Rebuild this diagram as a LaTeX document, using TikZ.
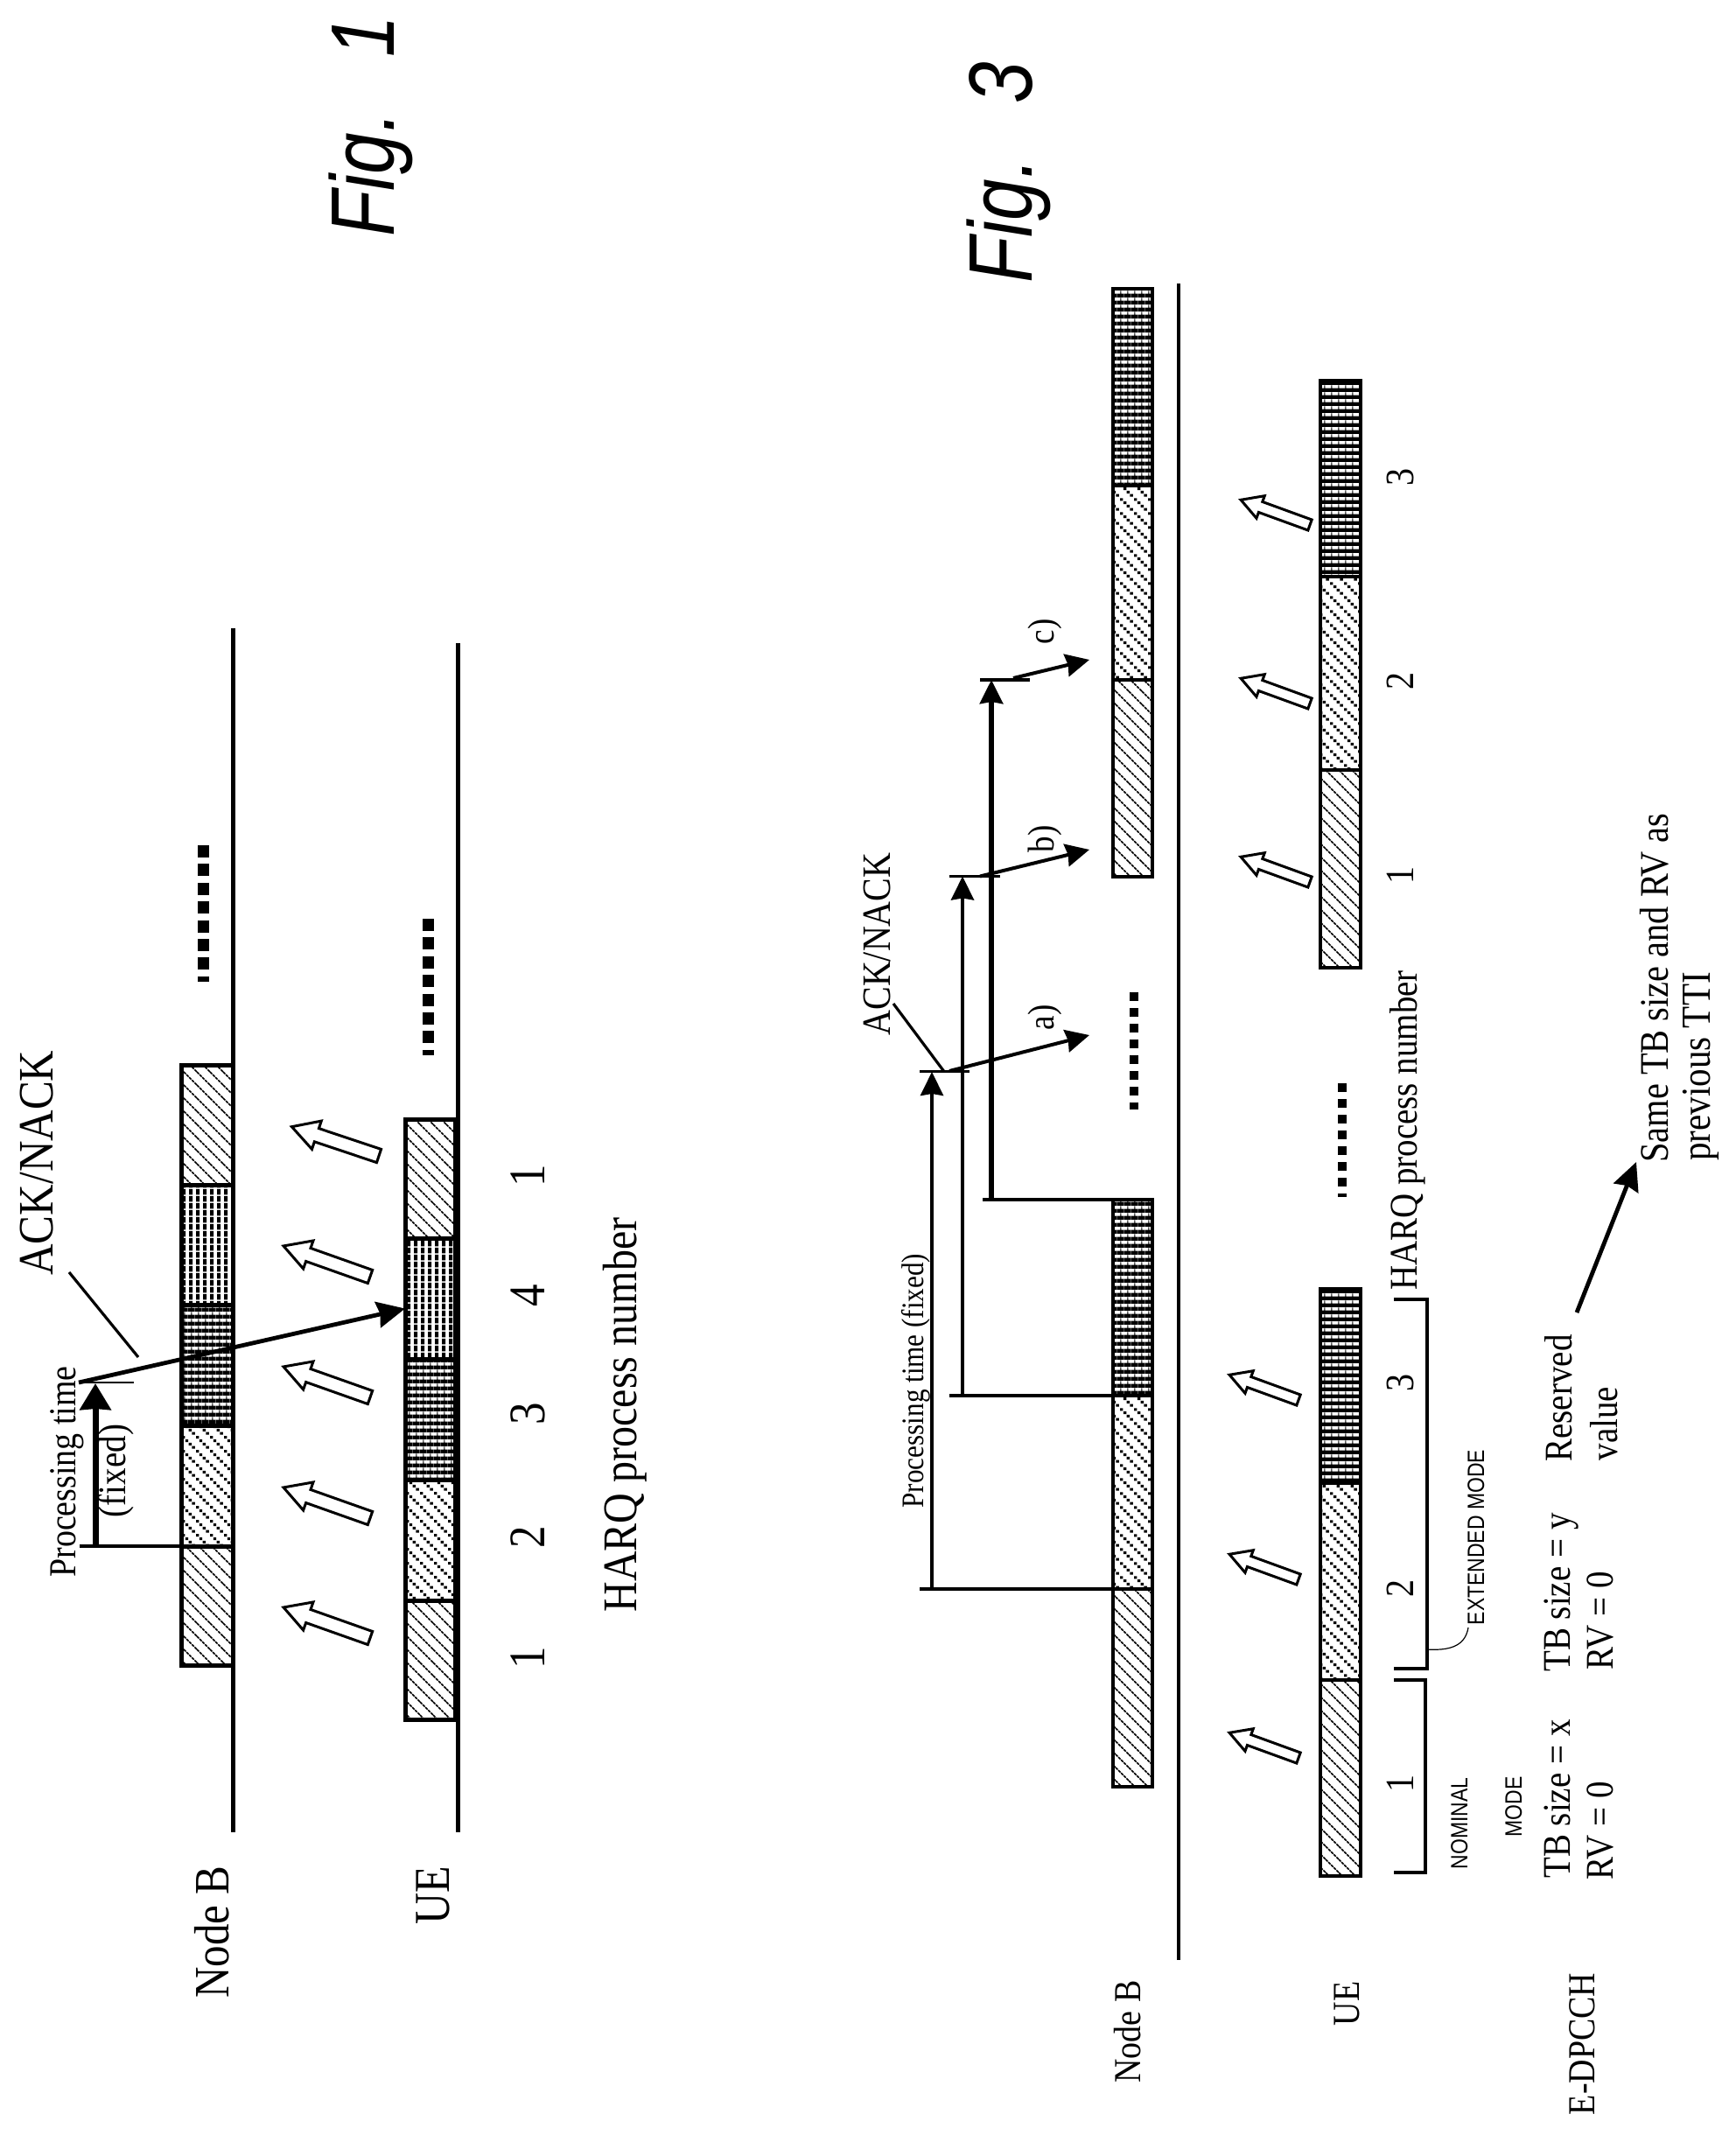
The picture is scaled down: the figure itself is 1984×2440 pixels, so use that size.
\documentclass[tikz,border=0pt]{standalone}
\usepackage{fontspec}
\setmainfont{Liberation Serif}
\setsansfont{Liberation Sans}
\usetikzlibrary{arrows.meta,patterns}
% Patterns: tile sizes in pt, 1 reference pixel = 0.5pt
\pgfdeclarepatternformonly{hatchone}{\pgfqpoint{-1pt}{-1pt}}{\pgfqpoint{8.5pt}{8.5pt}}{\pgfqpoint{7.5pt}{7.5pt}}{%
  \pgfsetlinewidth{0.85pt}\pgfsetdash{{1.7pt}{0.5pt}}{0pt}%
  \pgfpathmoveto{\pgfqpoint{0pt}{7.5pt}}\pgfpathlineto{\pgfqpoint{7.5pt}{0pt}}\pgfusepath{stroke}}
\pgfdeclarepatternformonly{hatchtwo}{\pgfqpoint{0pt}{0pt}}{\pgfqpoint{8pt}{8pt}}{\pgfqpoint{8pt}{8pt}}{%
  \pgfpathrectangle{\pgfqpoint{0pt}{6.2pt}}{\pgfqpoint{1.8pt}{1.6pt}}%
  \pgfpathrectangle{\pgfqpoint{2pt}{4.2pt}}{\pgfqpoint{1.8pt}{1.6pt}}%
  \pgfpathrectangle{\pgfqpoint{4pt}{2.2pt}}{\pgfqpoint{1.8pt}{1.6pt}}%
  \pgfpathrectangle{\pgfqpoint{6pt}{0.2pt}}{\pgfqpoint{1.8pt}{1.6pt}}%
  \pgfusepath{fill}}
\pgfdeclarepatternformonly{hatchthree}{\pgfqpoint{0pt}{0pt}}{\pgfqpoint{4.15pt}{4.15pt}}{\pgfqpoint{4.15pt}{4.15pt}}{%
  \pgfpathrectangle{\pgfqpoint{0pt}{0pt}}{\pgfqpoint{4.15pt}{2.35pt}}%
  \pgfpathrectangle{\pgfqpoint{1.8pt}{2.35pt}}{\pgfqpoint{0.6pt}{1.8pt}}%
  \pgfusepath{fill}}
\pgfdeclarepatternformonly{hatchfour}{\pgfqpoint{0pt}{0pt}}{\pgfqpoint{4.15pt}{4.15pt}}{\pgfqpoint{4.15pt}{4.15pt}}{%
  \pgfpathrectangle{\pgfqpoint{0.6pt}{0.4pt}}{\pgfqpoint{2.2pt}{3.4pt}}%
  \pgfusepath{fill}}
\tikzset{
  cellbox/.style={draw=black,rectangle,inner sep=0pt,outer sep=0pt,fill=white},
  timeline/.style={line width=2.5pt},
  timelinethin/.style={line width=1.9pt},
  dotsbig/.style={line width=6.5pt,dash pattern=on 7pt off 3.7pt},
  dotssmall/.style={line width=4.7pt,dash pattern=on 5pt off 4pt},
  holloweye/.style={draw=black,fill=white,line width=1.5pt,line join=miter},
  hollowarrow/.pic={\path[holloweye] (0,-8) -- (75,-8) -- (75,-17) -- (105,0) -- (75,17) -- (75,8) -- (0,8) -- cycle;},
  thin line/.style={line width=1.2pt},
  tick line/.style={line width=1.8pt},
  mid line/.style={line width=1.6pt},
  bigarrow/.style={-{Stealth[length=16pt,width=15pt,inset=1.5pt]},line width=2.4pt},
  smallarrow/.style={-{Stealth[length=13.5pt,width=13pt,inset=1pt]},line width=2pt},
  lbl/.style={rotate=90,xscale=0.87,anchor=base,inner sep=0pt,outer sep=0pt,font=\fontsize{#1}{#1}\selectfont},
  sanslbl/.style={rotate=90,xscale=0.85,anchor=base,inner sep=0pt,outer sep=0pt,font=\sffamily\fontsize{#1}{#1}\selectfont},
  figlbl/.style={rotate=90,xscale=0.83,anchor=base,inner sep=0pt,outer sep=0pt,font=\sffamily\itshape\fontsize{51.5}{52}\selectfont}
}
% name, x1, y1, x2, y2, pattern, line width in px
\newcommand{\cellblock}[7]{%
  \pgfmathsetmacro{\cbw}{(#4-#2)*0.5}\pgfmathsetmacro{\cbh}{(#5-#3)*0.5}%
  \pgfmathsetmacro{\cbx}{(#2+#4)/2}\pgfmathsetmacro{\cby}{(#3+#5)/2}%
  \node[cellbox,line width=#7*0.5pt,postaction={pattern=#6},minimum width=\cbw pt,minimum height=\cbh pt] (#1) at (\cbx,\cby) {};}
\begin{document}
\begin{tikzpicture}[x=0.5pt,y=-0.5pt]
\useasboundingbox (0,0) rectangle (1984,2440);
\fill[white] (0,0) rectangle (1984,2440);

% ---------- Fig. 1 ----------
\node[figlbl] (figone) at (450,144) {Fig.\hspace{38pt}1};
\coordinate (nbtop) at (266,718); \coordinate (nbbot) at (266,2094);
\coordinate (uetop) at (523,735); \coordinate (uebot) at (523,2094);
\cellblock{na}{207}{1217}{266}{1354.5}{hatchone}{5}
\cellblock{nb}{207}{1354.5}{266}{1491}{hatchfour}{5}
\cellblock{nc}{207}{1491}{266}{1629}{hatchthree}{5}
\cellblock{nd}{207}{1629}{266}{1767}{hatchtwo}{5}
\cellblock{ne}{207}{1767}{266}{1903}{hatchone}{5}
\cellblock{ua}{463}{1279.5}{520}{1415}{hatchone}{5}
\cellblock{ub}{463}{1415}{520}{1553}{hatchfour}{5}
\cellblock{uc}{463}{1553}{520}{1691}{hatchthree}{5}
\cellblock{ud}{463}{1691}{520}{1829}{hatchtwo}{5}
\cellblock{ue}{463}{1829}{520}{1965}{hatchone}{5}
\draw[timeline] (nbtop) -- (nbbot);
\draw[timeline] (uetop) -- (uebot);
\coordinate (ndota) at (232.5,966); \coordinate (ndotb) at (232.5,1122);
\coordinate (udota) at (489,1050); \coordinate (udotb) at (489,1206);
\draw[dotsbig] (ndota) -- (ndotb);
\draw[dotsbig] (udota) -- (udotb);
\pic[rotate=161.5] at (433,1321) {hollowarrow};
\pic[rotate=160.5] at (423,1459) {hollowarrow};
\pic[rotate=160.5] at (423,1597) {hollowarrow};
\pic[rotate=160.5] at (423,1735) {hollowarrow};
\pic[rotate=160.5] at (423,1872) {hollowarrow};
\coordinate (pstart) at (91,1767);
\coordinate (varrowbase) at (109,1767); \coordinate (varrowtip) at (109,1581);
\coordinate (tickl) at (90,1580); \coordinate (tickr) at (153,1580);
\coordinate (ackl) at (79,1454); \coordinate (ackr) at (158,1551);
\coordinate (ubtip) at (463,1495.5);
\draw[mid line] (ne.north west) -- (pstart);
\draw[line width=3.5pt,-{Stealth[length=15pt,width=17.5pt,inset=0.5pt]}] (varrowbase) -- (varrowtip);
\draw[thin line] (tickl) -- (tickr);
\draw[bigarrow] (tickl) -- (ubtip);
\draw[mid line] (ackl) -- (ackr);
\node[lbl=28.3] (ackone) at (60,1329) {ACK/NACK};
\node[lbl=21.8] (procone) at (86,1682) {Processing time};
\node[lbl=22.4] (fixedone) at (143,1681) {(fixed)};
\node[lbl=29.3] (one1) at (622,1895) {1};
\node[lbl=29.3] (one2) at (622,1757) {2};
\node[lbl=29.3] (one3) at (622,1616) {3};
\node[lbl=29.3] (one4) at (622,1481) {4};
\node[lbl=29.3] (one5) at (622,1344) {1};
\node[lbl=27.6] (harqone) at (727,1617) {HARQ process number};
\node[lbl=28.2] (nodebone) at (261,2208) {Node B};
\node[lbl=28.7] (ueone) at (513,2166) {UE};

% ---------- Fig. 3 ----------
\node[figlbl] (figthree) at (1179,197) {Fig.\hspace{38pt}3};
\coordinate (nbtopb) at (1347,324); \coordinate (nbbotb) at (1347,2240);
\draw[timelinethin] (nbtopb) -- (nbbotb);
\cellblock{pa}{1272}{330}{1317}{555}{hatchthree}{4}
\cellblock{pb}{1272}{555}{1317}{777}{hatchtwo}{4}
\cellblock{pc}{1272}{777}{1317}{1001.5}{hatchone}{4}
\cellblock{pd}{1272}{1370.5}{1317}{1594.5}{hatchthree}{4}
\cellblock{pe}{1272}{1594.5}{1317}{1816}{hatchtwo}{4}
\cellblock{pf}{1272}{1816}{1317}{2042}{hatchone}{4}
\cellblock{qa}{1509}{435}{1554.5}{659}{hatchthree}{4}
\cellblock{qb}{1509}{659}{1554.5}{880}{hatchtwo}{4}
\cellblock{qc}{1509}{880}{1554.5}{1105.5}{hatchone}{4}
\cellblock{qd}{1509}{1473}{1554.5}{1695}{hatchthree}{4}
\cellblock{qe}{1509}{1695}{1554.5}{1920}{hatchtwo}{4}
\cellblock{qf}{1509}{1920}{1554.5}{2144}{hatchone}{4}
\coordinate (pdota) at (1296,1134); \coordinate (pdotb) at (1296,1268);
\coordinate (qdota) at (1534,1238); \coordinate (qdotb) at (1534,1368);
\draw[dotssmall] (pdota) -- (pdotb);
\draw[dotssmall] (qdota) -- (qdotb);
\pic[rotate=160,scale=0.8] at (1497,1008) {hollowarrow};
\pic[rotate=160,scale=0.8] at (1497,804) {hollowarrow};
\pic[rotate=160,scale=0.8] at (1497,600) {hollowarrow};
\pic[rotate=160,scale=0.8] at (1484,2009) {hollowarrow};
\pic[rotate=160,scale=0.8] at (1484,1805) {hollowarrow};
\pic[rotate=160,scale=0.8] at (1484,1600) {hollowarrow};
% processing arrows
\coordinate (sa) at (1051,1816); \coordinate (sab) at (1065,1816); \coordinate (ta) at (1065,1225);
\coordinate (sb) at (1085,1594.5); \coordinate (sbb) at (1100,1594.5); \coordinate (tb) at (1100,1001.5);
\coordinate (sc) at (1123,1370.5); \coordinate (scb) at (1133,1370.5); \coordinate (tc) at (1133,777);
\coordinate (tal) at (1051,1224.5); \coordinate (tar) at (1108,1224.5);
\coordinate (tbl) at (1085,1001.5); \coordinate (tbr) at (1142.5,1001.5);
\coordinate (tcl) at (1120,777); \coordinate (tcr) at (1177,777);
\draw[mid line,line width=2pt] (pf.north west) -- (sa);
\draw[mid line,line width=2pt] (pe.north west) -- (sb);
\draw[mid line,line width=2pt] (pd.north west) -- (sc);
\draw[smallarrow] (sab) -- (ta);
\draw[smallarrow] (sbb) -- (tb);
\draw[smallarrow,line width=3pt] (scb) -- (tc);
\draw[tick line] (tal) -- (tar);
\draw[tick line] (tbl) -- (tbr);
\draw[tick line] (tcl) -- (tcr);
\coordinate (asrc) at (1085,1224); \coordinate (atip) at (1245,1183);
\coordinate (bsrc) at (1120,1001.5); \coordinate (btip) at (1245,971);
\coordinate (csrc) at (1158,775); \coordinate (ctip) at (1245,754);
\draw[smallarrow] (asrc) -- (atip);
\draw[smallarrow] (bsrc) -- (btip);
\draw[smallarrow] (csrc) -- (ctip);
\coordinate (ackla) at (1021,1147); \coordinate (acklb) at (1078.5,1224);
\draw[mid line] (ackla) -- (acklb);
\node[lbl=23] (ackthree) at (1017,1079) {ACK/NACK};
\node[lbl=21.3] (alab) at (1204,1163) {a)};
\node[lbl=21.3] (blab) at (1204,959) {b)};
\node[lbl=21.3] (clab) at (1204,722) {c)};
\node[lbl=17.9] (procthree) at (1055,1578) {Processing time (fixed)};
\node[lbl=23] (three1) at (1615,2038) {1};
\node[lbl=23] (three2) at (1615,1815) {2};
\node[lbl=23] (three3) at (1615,1580) {3};
\node[lbl=23] (three4) at (1615,1000) {1};
\node[lbl=23] (three5) at (1615,778) {2};
\node[lbl=23] (three6) at (1615,545.5) {3};
\node[lbl=22.4] (harqthree) at (1619,1292) {HARQ process number};
% brackets
\coordinate (ba) at (1593,2140); \coordinate (bb) at (1629,2140); \coordinate (bc) at (1629,1920); \coordinate (bd) at (1593,1920);
\coordinate (ca) at (1593,1907); \coordinate (cb) at (1631,1907); \coordinate (cc) at (1631,1485); \coordinate (cd) at (1593,1485);
\draw[mid line] (ba) -- (bb) -- (bc) -- (bd);
\draw[mid line] (ca) -- (cb) -- (cc) -- (cd);
\coordinate (lda) at (1631,1885); \coordinate (ldb) at (1678,1860);
\draw[line width=0.6pt] (lda) .. controls (1662,1887) and (1675,1878) .. (ldb);
\node[sanslbl=13.5] (extmode) at (1696,1757) {EXTENDED MODE};
\node[sanslbl=13.5] (nominal) at (1677,2084) {NOMINAL};
\node[sanslbl=13.5] (nommode) at (1739,2065) {MODE};
\node[lbl=22.4] (tbx) at (1794,2056) {TB size = x};
\node[lbl=22.4] (rvx) at (1843,2092) {RV = 0};
\node[lbl=22.4] (tby) at (1794,1820) {TB size = y};
\node[lbl=22.4] (rvy) at (1843,1852) {RV = 0};
\node[lbl=22.4] (resv) at (1796,1598) {Reserved};
\node[lbl=22.4] (valu) at (1848,1627) {value};
\coordinate (rsrc) at (1802,1500); \coordinate (rtip) at (1870,1328);
\draw[bigarrow] (rsrc) -- (rtip);
\node[lbl=23.2] (same) at (1906,1129) {Same TB size and RV as};
\node[lbl=23.6] (prev) at (1954,1219) {previous TTI};
\node[lbl=21.8] (nodebthree) at (1303,2322) {Node B};
\node[lbl=21.8] (uethree) at (1553,2290) {UE};
\node[lbl=21.8] (edpcch) at (1822,2336) {E-DPCCH};
\end{tikzpicture}
\end{document}
